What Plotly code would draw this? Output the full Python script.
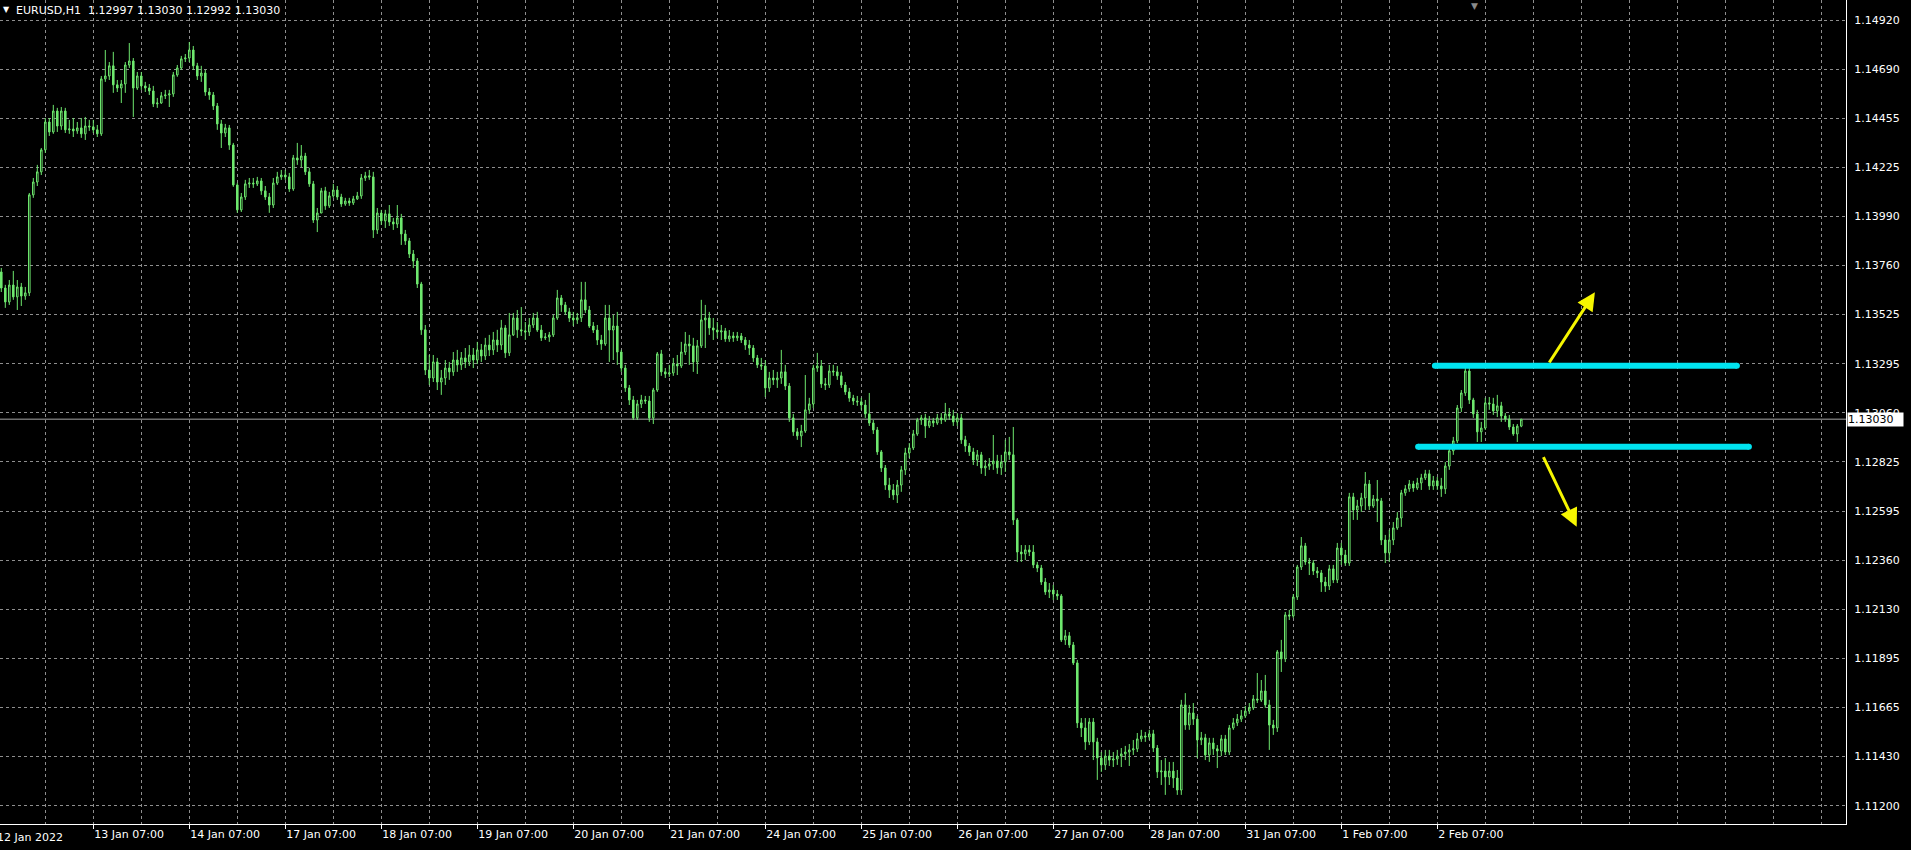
import plotly.graph_objects as go

# ---------------- data ----------------
symbol = "EURUSD,H1"
first_label = "12 Jan 2022"
x_tick_labels = ["13 Jan 07:00", "14 Jan 07:00", "17 Jan 07:00", "18 Jan 07:00", "19 Jan 07:00",
                 "20 Jan 07:00", "21 Jan 07:00", "24 Jan 07:00", "25 Jan 07:00", "26 Jan 07:00",
                 "27 Jan 07:00", "28 Jan 07:00", "31 Jan 07:00", "1 Feb 07:00", "2 Feb 07:00"]
first_tick_bar = 23        # bar index of 13 Jan 07:00 (bar 0 = 12 Jan 08:00)
bars_per_day = 24
grid_first_bar = 11
grid_step_bars = 12

y_tick_labels = ["1.11200", "1.11430", "1.11665", "1.11895", "1.12130", "1.12360", "1.12595",
                 "1.12825", "1.13060", "1.13295", "1.13525", "1.13760", "1.13990", "1.14225",
                 "1.14455", "1.14690", "1.14920"]
y_tick_low, y_tick_high = 1.11200, 1.14920

opens = [
    1.13727, 1.13651, 1.13585, 1.13665, 1.13609, 1.13656, 1.13613, 1.13628, 1.14092, 1.14153,
    1.14201, 1.14305, 1.14437, 1.14390, 1.14489, 1.14418, 1.14489, 1.14400, 1.14404, 1.14395,
    1.14409, 1.14381, 1.14418, 1.14414, 1.14400, 1.14381, 1.14641, 1.14655, 1.14703, 1.14613,
    1.14598, 1.14617, 1.14707, 1.14726, 1.14598, 1.14655, 1.14608, 1.14598, 1.14584, 1.14523,
    1.14527, 1.14561, 1.14565, 1.14570, 1.14660, 1.14693, 1.14736, 1.14740, 1.14778, 1.14703,
    1.14655, 1.14669, 1.14579, 1.14565, 1.14513, 1.14428, 1.14385, 1.14409, 1.14328, 1.14139,
    1.14021, 1.14082, 1.14144, 1.14148, 1.14144, 1.14158, 1.14111, 1.14082, 1.14044, 1.14148,
    1.14177, 1.14186, 1.14177, 1.14120, 1.14267, 1.14257, 1.14276, 1.14201, 1.14144, 1.13973,
    1.14006, 1.14111, 1.14040, 1.14087, 1.14115, 1.14082, 1.14049, 1.14063, 1.14054, 1.14073,
    1.14087, 1.14172, 1.14182, 1.14177, 1.13926, 1.14006, 1.13969, 1.14002, 1.13964, 1.13954,
    1.13983, 1.13907, 1.13874, 1.13812, 1.13779, 1.13670, 1.13453, 1.13263, 1.13225, 1.13301,
    1.13206, 1.13225, 1.13272, 1.13254, 1.13310, 1.13287, 1.13320, 1.13301, 1.13334, 1.13310,
    1.13358, 1.13329, 1.13381, 1.13358, 1.13405, 1.13381, 1.13462, 1.13344, 1.13429, 1.13509,
    1.13453, 1.13448, 1.13443, 1.13476, 1.13509, 1.13452, 1.13415, 1.13419, 1.13429, 1.13509,
    1.13604, 1.13571, 1.13538, 1.13509, 1.13500, 1.13510, 1.13595, 1.13547, 1.13471, 1.13452,
    1.13405, 1.13386, 1.13509, 1.13452, 1.13471, 1.13348, 1.13272, 1.13178, 1.13121, 1.13036,
    1.13102, 1.13121, 1.13116, 1.13036, 1.13168, 1.13339, 1.13254, 1.13244, 1.13249, 1.13291,
    1.13282, 1.13348, 1.13386, 1.13377, 1.13301, 1.13377, 1.13500, 1.13509, 1.13462, 1.13452,
    1.13443, 1.13448, 1.13410, 1.13424, 1.13415, 1.13424, 1.13405, 1.13381, 1.13367, 1.13320,
    1.13287, 1.13282, 1.13178, 1.13225, 1.13216, 1.13225, 1.13254, 1.13187, 1.13036, 1.12970,
    1.12951, 1.12974, 1.13074, 1.13102, 1.13272, 1.13282, 1.13197, 1.13192, 1.13258, 1.13254,
    1.13235, 1.13192, 1.13159, 1.13130, 1.13116, 1.13112, 1.13097, 1.13055, 1.13012, 1.12979,
    1.12875, 1.12799, 1.12718, 1.12695, 1.12671, 1.12718, 1.12790, 1.12870, 1.12894, 1.12960,
    1.13026, 1.13036, 1.12998, 1.13022, 1.13012, 1.13036, 1.13026, 1.13055, 1.13045, 1.13017,
    1.13036, 1.12932, 1.12903, 1.12875, 1.12837, 1.12861, 1.12799, 1.12808, 1.12818, 1.12832,
    1.12800, 1.12827, 1.12875, 1.12861, 1.12553, 1.12401, 1.12392, 1.12411, 1.12401, 1.12340,
    1.12325, 1.12259, 1.12212, 1.12221, 1.12202, 1.12193, 1.11985, 1.12004, 1.11961, 1.11876,
    1.11592, 1.11568, 1.11502, 1.11596, 1.11502, 1.11426, 1.11393, 1.11435, 1.11416, 1.11421,
    1.11435, 1.11445, 1.11454, 1.11464, 1.11469, 1.11516, 1.11530, 1.11525, 1.11540, 1.11473,
    1.11360, 1.11364, 1.11336, 1.11364, 1.11331, 1.11274, 1.11677, 1.11582, 1.11639, 1.11610,
    1.11511, 1.11521, 1.11440, 1.11497, 1.11469, 1.11459, 1.11516, 1.11454, 1.11568, 1.11592,
    1.11610, 1.11625, 1.11648, 1.11663, 1.11705, 1.11700, 1.11743, 1.11677, 1.11582, 1.11568,
    1.11928, 1.11895, 1.12103, 1.12098, 1.12188, 1.12330, 1.12430, 1.12354, 1.12349, 1.12311,
    1.12302, 1.12259, 1.12240, 1.12321, 1.12269, 1.12420, 1.12387, 1.12349, 1.12662, 1.12600,
    1.12619, 1.12657, 1.12723, 1.12619, 1.12652, 1.12643, 1.12458, 1.12397, 1.12458, 1.12515,
    1.12562, 1.12681, 1.12700, 1.12723, 1.12704, 1.12728, 1.12752, 1.12771, 1.12714, 1.12738,
    1.12714, 1.12700, 1.12808, 1.12880, 1.12927, 1.13083, 1.13154, 1.13258, 1.13121, 1.13055,
    1.12970, 1.12988, 1.13107, 1.13102, 1.13069, 1.13093, 1.13045, 1.13031, 1.12993, 1.12960,
    1.12997,
]

highs = [
    1.13746, 1.13666, 1.13689, 1.13732, 1.13689, 1.13675, 1.13656, 1.14101, 1.14172, 1.14234,
    1.14314, 1.14456, 1.14456, 1.14518, 1.14504, 1.14508, 1.14504, 1.14447, 1.14456, 1.14437,
    1.14456, 1.14461, 1.14447, 1.14447, 1.14423, 1.14655, 1.14778, 1.14721, 1.14769, 1.14636,
    1.14636, 1.14721, 1.14811, 1.14740, 1.14674, 1.14674, 1.14627, 1.14617, 1.14608, 1.14551,
    1.14579, 1.14589, 1.14589, 1.14674, 1.14707, 1.14750, 1.14759, 1.14816, 1.14797, 1.14717,
    1.14703, 1.14684, 1.14598, 1.14579, 1.14527, 1.14447, 1.14428, 1.14423, 1.14338, 1.14149,
    1.14101, 1.14163, 1.14172, 1.14172, 1.14177, 1.14172, 1.14134, 1.14101, 1.14172, 1.14201,
    1.14210, 1.14210, 1.14196, 1.14281, 1.14338, 1.14328, 1.14291, 1.14220, 1.14158, 1.14030,
    1.14125, 1.14130, 1.14106, 1.14144, 1.14134, 1.14097, 1.14078, 1.14078, 1.14087, 1.14106,
    1.14191, 1.14201, 1.14210, 1.14201, 1.14030, 1.14021, 1.14021, 1.14044, 1.13983, 1.14044,
    1.14002, 1.13926, 1.13888, 1.13831, 1.13793, 1.13680, 1.13476, 1.13334, 1.13334, 1.13320,
    1.13263, 1.13310, 1.13301, 1.13348, 1.13358, 1.13348, 1.13367, 1.13381, 1.13367, 1.13396,
    1.13386, 1.13415, 1.13429, 1.13443, 1.13453, 1.13500, 1.13476, 1.13533, 1.13533, 1.13547,
    1.13561, 1.13490, 1.13509, 1.13533, 1.13538, 1.13476, 1.13438, 1.13443, 1.13524, 1.13642,
    1.13618, 1.13585, 1.13557, 1.13538, 1.13533, 1.13680, 1.13680, 1.13566, 1.13490, 1.13476,
    1.13429, 1.13571, 1.13571, 1.13524, 1.13538, 1.13358, 1.13287, 1.13192, 1.13140, 1.13121,
    1.13145, 1.13140, 1.13140, 1.13178, 1.13348, 1.13358, 1.13272, 1.13287, 1.13320, 1.13334,
    1.13396, 1.13443, 1.13429, 1.13415, 1.13405, 1.13595, 1.13571, 1.13538, 1.13509, 1.13490,
    1.13476, 1.13462, 1.13452, 1.13443, 1.13443, 1.13438, 1.13419, 1.13405, 1.13381, 1.13334,
    1.13320, 1.13310, 1.13254, 1.13263, 1.13254, 1.13358, 1.13287, 1.13201, 1.13055, 1.12988,
    1.13003, 1.13239, 1.13131, 1.13287, 1.13344, 1.13310, 1.13225, 1.13287, 1.13287, 1.13282,
    1.13254, 1.13206, 1.13178, 1.13145, 1.13140, 1.13131, 1.13121, 1.13154, 1.13026, 1.12993,
    1.12884, 1.12813, 1.12752, 1.12723, 1.12742, 1.12808, 1.12894, 1.12917, 1.12979, 1.13036,
    1.13050, 1.13055, 1.13045, 1.13036, 1.13055, 1.13059, 1.13107, 1.13083, 1.13074, 1.13059,
    1.13055, 1.12951, 1.12917, 1.12894, 1.12884, 1.12875, 1.12837, 1.12846, 1.12955, 1.12861,
    1.12861, 1.12932, 1.12946, 1.12993, 1.12562, 1.12434, 1.12434, 1.12434, 1.12434, 1.12354,
    1.12340, 1.12278, 1.12254, 1.12245, 1.12221, 1.12202, 1.12032, 1.12022, 1.11975, 1.11890,
    1.11615, 1.11615, 1.11615, 1.11615, 1.11521, 1.11454, 1.11464, 1.11464, 1.11454, 1.11464,
    1.11473, 1.11483, 1.11492, 1.11511, 1.11544, 1.11559, 1.11549, 1.11559, 1.11559, 1.11487,
    1.11416, 1.11426, 1.11407, 1.11407, 1.11369, 1.11701, 1.11733, 1.11677, 1.11686, 1.11625,
    1.11549, 1.11540, 1.11521, 1.11521, 1.11487, 1.11535, 1.11535, 1.11582, 1.11615, 1.11634,
    1.11653, 1.11672, 1.11686, 1.11724, 1.11828, 1.11795, 1.11819, 1.11701, 1.11606, 1.11937,
    1.11985, 1.12117, 1.12127, 1.12202, 1.12340, 1.12472, 1.12444, 1.12373, 1.12363, 1.12330,
    1.12316, 1.12283, 1.12340, 1.12340, 1.12444, 1.12444, 1.12411, 1.12681, 1.12681, 1.12648,
    1.12681, 1.12780, 1.12742, 1.12671, 1.12742, 1.12657, 1.12482, 1.12506, 1.12543, 1.12590,
    1.12695, 1.12718, 1.12742, 1.12738, 1.12752, 1.12771, 1.12790, 1.12790, 1.12761, 1.12756,
    1.12752, 1.12827, 1.12894, 1.12946, 1.13097, 1.13168, 1.13277, 1.13277, 1.13131, 1.13074,
    1.13017, 1.13131, 1.13135, 1.13131, 1.13145, 1.13112, 1.13059, 1.13050, 1.13007, 1.13007,
    1.13030,
]

lows = [
    1.13632, 1.13557, 1.13571, 1.13595, 1.13547, 1.13566, 1.13595, 1.13613, 1.14078, 1.14134,
    1.14186, 1.14291, 1.14371, 1.14381, 1.14390, 1.14400, 1.14385, 1.14381, 1.14366, 1.14381,
    1.14362, 1.14352, 1.14395, 1.14385, 1.14366, 1.14371, 1.14627, 1.14636, 1.14575, 1.14579,
    1.14527, 1.14575, 1.14693, 1.14461, 1.14589, 1.14589, 1.14579, 1.14565, 1.14508, 1.14504,
    1.14523, 1.14546, 1.14508, 1.14556, 1.14651, 1.14684, 1.14721, 1.14721, 1.14684, 1.14636,
    1.14627, 1.14561, 1.14542, 1.14494, 1.14400, 1.14314, 1.14366, 1.14305, 1.14130, 1.14007,
    1.14011, 1.14068, 1.14125, 1.14125, 1.14134, 1.14092, 1.14068, 1.14007, 1.14030, 1.14139,
    1.14163, 1.14163, 1.14106, 1.14111, 1.14234, 1.14224, 1.14186, 1.14130, 1.13959, 1.13916,
    1.14007, 1.14021, 1.14030, 1.14078, 1.14068, 1.14035, 1.14040, 1.14040, 1.14044, 1.14068,
    1.14073, 1.14158, 1.14163, 1.13888, 1.13907, 1.13950, 1.13935, 1.13945, 1.13926, 1.13935,
    1.13855, 1.13855, 1.13793, 1.13746, 1.13651, 1.13429, 1.13239, 1.13192, 1.13206, 1.13168,
    1.13145, 1.13192, 1.13216, 1.13235, 1.13254, 1.13263, 1.13272, 1.13282, 1.13272, 1.13291,
    1.13301, 1.13310, 1.13329, 1.13334, 1.13348, 1.13358, 1.13320, 1.13329, 1.13424, 1.13415,
    1.13424, 1.13405, 1.13424, 1.13462, 1.13443, 1.13400, 1.13405, 1.13396, 1.13419, 1.13500,
    1.13538, 1.13524, 1.13490, 1.13471, 1.13481, 1.13490, 1.13533, 1.13462, 1.13438, 1.13381,
    1.13358, 1.13377, 1.13301, 1.13310, 1.13287, 1.13254, 1.13159, 1.13097, 1.13026, 1.13026,
    1.13083, 1.13102, 1.13017, 1.13007, 1.13159, 1.13235, 1.13225, 1.13230, 1.13235, 1.13239,
    1.13272, 1.13334, 1.13287, 1.13254, 1.13244, 1.13367, 1.13367, 1.13429, 1.13405, 1.13415,
    1.13405, 1.13396, 1.13396, 1.13396, 1.13400, 1.13391, 1.13358, 1.13334, 1.13301, 1.13272,
    1.13263, 1.13135, 1.13159, 1.13192, 1.13178, 1.13197, 1.13168, 1.13017, 1.12951, 1.12932,
    1.12898, 1.12965, 1.13055, 1.13083, 1.13254, 1.13178, 1.13168, 1.13178, 1.13235, 1.13216,
    1.13178, 1.13145, 1.13112, 1.13097, 1.13093, 1.13074, 1.13036, 1.12998, 1.12960, 1.12861,
    1.12780, 1.12695, 1.12657, 1.12648, 1.12633, 1.12686, 1.12766, 1.12846, 1.12884, 1.12951,
    1.13003, 1.12941, 1.12988, 1.12993, 1.13003, 1.13007, 1.13017, 1.13026, 1.12998, 1.12998,
    1.12913, 1.12875, 1.12856, 1.12813, 1.12808, 1.12771, 1.12761, 1.12790, 1.12790, 1.12771,
    1.12766, 1.12780, 1.12837, 1.12529, 1.12354, 1.12354, 1.12363, 1.12382, 1.12325, 1.12306,
    1.12245, 1.12198, 1.12183, 1.12174, 1.12174, 1.11975, 1.11961, 1.11947, 1.11866, 1.11568,
    1.11525, 1.11464, 1.11487, 1.11416, 1.11322, 1.11360, 1.11369, 1.11388, 1.11383, 1.11393,
    1.11383, 1.11416, 1.11388, 1.11440, 1.11454, 1.11502, 1.11502, 1.11511, 1.11454, 1.11331,
    1.11298, 1.11251, 1.11298, 1.11284, 1.11251, 1.11251, 1.11559, 1.11559, 1.11582, 1.11426,
    1.11487, 1.11416, 1.11407, 1.11440, 1.11378, 1.11435, 1.11440, 1.11440, 1.11559, 1.11577,
    1.11596, 1.11615, 1.11634, 1.11653, 1.11686, 1.11691, 1.11663, 1.11464, 1.11535, 1.11549,
    1.11833, 1.11880, 1.12079, 1.12089, 1.12174, 1.12316, 1.12340, 1.12292, 1.12292, 1.12278,
    1.12212, 1.12212, 1.12221, 1.12254, 1.12254, 1.12340, 1.12335, 1.12335, 1.12553, 1.12553,
    1.12591, 1.12600, 1.12600, 1.12610, 1.12543, 1.12434, 1.12349, 1.12354, 1.12434, 1.12506,
    1.12520, 1.12667, 1.12686, 1.12686, 1.12695, 1.12695, 1.12742, 1.12695, 1.12695, 1.12695,
    1.12662, 1.12676, 1.12790, 1.12861, 1.12917, 1.13064, 1.13140, 1.13102, 1.13036, 1.12922,
    1.12922, 1.12979, 1.13074, 1.13050, 1.13040, 1.13017, 1.13017, 1.12979, 1.12951, 1.12922,
    1.12992,
]

closes = [
    1.13651, 1.13585, 1.13665, 1.13609, 1.13656, 1.13613, 1.13628, 1.14092, 1.14153, 1.14201,
    1.14305, 1.14437, 1.14390, 1.14489, 1.14418, 1.14489, 1.14400, 1.14404, 1.14395, 1.14409,
    1.14381, 1.14418, 1.14414, 1.14400, 1.14381, 1.14641, 1.14655, 1.14703, 1.14613, 1.14598,
    1.14617, 1.14707, 1.14726, 1.14598, 1.14655, 1.14608, 1.14598, 1.14584, 1.14523, 1.14527,
    1.14561, 1.14565, 1.14570, 1.14660, 1.14693, 1.14736, 1.14740, 1.14778, 1.14703, 1.14655,
    1.14669, 1.14579, 1.14565, 1.14513, 1.14428, 1.14385, 1.14409, 1.14328, 1.14139, 1.14021,
    1.14082, 1.14144, 1.14148, 1.14144, 1.14158, 1.14111, 1.14082, 1.14044, 1.14148, 1.14177,
    1.14186, 1.14177, 1.14120, 1.14267, 1.14257, 1.14276, 1.14201, 1.14144, 1.13973, 1.14006,
    1.14111, 1.14040, 1.14087, 1.14115, 1.14082, 1.14049, 1.14063, 1.14054, 1.14073, 1.14087,
    1.14172, 1.14182, 1.14177, 1.13926, 1.14006, 1.13969, 1.14002, 1.13964, 1.13954, 1.13983,
    1.13907, 1.13874, 1.13812, 1.13779, 1.13670, 1.13453, 1.13263, 1.13225, 1.13301, 1.13206,
    1.13225, 1.13272, 1.13254, 1.13310, 1.13287, 1.13320, 1.13301, 1.13334, 1.13310, 1.13358,
    1.13329, 1.13381, 1.13358, 1.13405, 1.13381, 1.13462, 1.13344, 1.13429, 1.13509, 1.13453,
    1.13448, 1.13443, 1.13476, 1.13509, 1.13452, 1.13415, 1.13419, 1.13429, 1.13509, 1.13604,
    1.13571, 1.13538, 1.13509, 1.13500, 1.13510, 1.13595, 1.13547, 1.13471, 1.13452, 1.13405,
    1.13386, 1.13509, 1.13452, 1.13471, 1.13348, 1.13272, 1.13178, 1.13121, 1.13036, 1.13102,
    1.13121, 1.13116, 1.13036, 1.13168, 1.13339, 1.13254, 1.13244, 1.13249, 1.13291, 1.13282,
    1.13348, 1.13386, 1.13377, 1.13301, 1.13377, 1.13500, 1.13509, 1.13462, 1.13452, 1.13443,
    1.13448, 1.13410, 1.13424, 1.13415, 1.13424, 1.13405, 1.13381, 1.13367, 1.13320, 1.13287,
    1.13282, 1.13178, 1.13225, 1.13216, 1.13225, 1.13254, 1.13187, 1.13036, 1.12970, 1.12951,
    1.12974, 1.13074, 1.13102, 1.13272, 1.13282, 1.13197, 1.13192, 1.13258, 1.13254, 1.13235,
    1.13192, 1.13159, 1.13130, 1.13116, 1.13112, 1.13097, 1.13055, 1.13012, 1.12979, 1.12875,
    1.12799, 1.12718, 1.12695, 1.12671, 1.12718, 1.12790, 1.12870, 1.12894, 1.12960, 1.13026,
    1.13036, 1.12998, 1.13022, 1.13012, 1.13036, 1.13026, 1.13055, 1.13045, 1.13017, 1.13036,
    1.12932, 1.12903, 1.12875, 1.12837, 1.12861, 1.12799, 1.12808, 1.12818, 1.12832, 1.12800,
    1.12827, 1.12875, 1.12861, 1.12553, 1.12401, 1.12392, 1.12411, 1.12401, 1.12340, 1.12325,
    1.12259, 1.12212, 1.12221, 1.12202, 1.12193, 1.11985, 1.12004, 1.11961, 1.11876, 1.11592,
    1.11568, 1.11502, 1.11596, 1.11502, 1.11426, 1.11393, 1.11435, 1.11416, 1.11421, 1.11435,
    1.11445, 1.11454, 1.11464, 1.11469, 1.11516, 1.11530, 1.11525, 1.11540, 1.11473, 1.11360,
    1.11364, 1.11336, 1.11364, 1.11331, 1.11274, 1.11677, 1.11582, 1.11639, 1.11610, 1.11511,
    1.11521, 1.11440, 1.11497, 1.11469, 1.11459, 1.11516, 1.11454, 1.11568, 1.11592, 1.11610,
    1.11625, 1.11648, 1.11663, 1.11705, 1.11700, 1.11743, 1.11677, 1.11582, 1.11568, 1.11928,
    1.11895, 1.12103, 1.12098, 1.12188, 1.12330, 1.12430, 1.12354, 1.12349, 1.12311, 1.12302,
    1.12259, 1.12240, 1.12321, 1.12269, 1.12420, 1.12387, 1.12349, 1.12662, 1.12600, 1.12619,
    1.12657, 1.12723, 1.12619, 1.12652, 1.12643, 1.12458, 1.12397, 1.12458, 1.12515, 1.12562,
    1.12681, 1.12700, 1.12723, 1.12704, 1.12728, 1.12752, 1.12771, 1.12714, 1.12738, 1.12714,
    1.12700, 1.12808, 1.12880, 1.12927, 1.13083, 1.13154, 1.13258, 1.13121, 1.13055, 1.12970,
    1.12988, 1.13107, 1.13102, 1.13069, 1.13093, 1.13045, 1.13031, 1.12993, 1.12960, 1.12997,
    1.13030,
]

# drawn objects (bar index / price)
level_prices = [1.13283, 1.12900]
level_bar_from = [358.4, 354.2]
level_bar_to = [433.9, 436.9]
arrow_tail_bar = [386.75, 385.35]
arrow_tail_price = [1.13291, 1.12857]
arrow_tip_bar = [398.4, 393.85]
arrow_tip_price = [1.13631, 1.12521]

x_view = [-0.325, 461.175]
y_view = [1.111132, 1.150147]

# ---------------- style ----------------
BG = "#000000"
CANDLE = "#6EE86E"
GRID = "#8E8E8E"
CYAN = "#00E3F0"
YELLOW = "#F6F600"
FONT = "DejaVu Sans"
DASH = "3px,3px"

bars = list(range(len(closes)))
x_tickvals = [first_tick_bar + bars_per_day * k for k in range(len(x_tick_labels))]
grid_vals = list(range(grid_first_bar, int(x_view[1]) + 1, grid_step_bars))
n_y = len(y_tick_labels)
y_tickvals = [y_tick_low + (y_tick_high - y_tick_low) * k / (n_y - 1) for k in range(n_y)]

fig = go.Figure()
fig.add_trace(go.Candlestick(
    x=bars, open=opens, high=highs, low=lows, close=closes,
    increasing=dict(line=dict(color=CANDLE, width=1), fillcolor=BG),
    decreasing=dict(line=dict(color=CANDLE, width=1), fillcolor=CANDLE),
    whiskerwidth=0, hoverinfo="skip", showlegend=False,
))

for p, a, b in zip(level_prices, level_bar_from, level_bar_to):
    fig.add_trace(go.Scatter(
        x=[a, b], y=[p, p], mode="lines+markers",
        line=dict(color=CYAN, width=6), marker=dict(color=CYAN, size=6),
        hoverinfo="skip", showlegend=False,
    ))

for tx, ty, hx, hy in zip(arrow_tail_bar, arrow_tail_price, arrow_tip_bar, arrow_tip_price):
    fig.add_annotation(
        x=hx, y=hy, ax=tx, ay=ty, xref="x", yref="y", axref="x", ayref="y",
        text="", showarrow=True, arrowhead=2, arrowsize=1.2, arrowwidth=3,
        arrowcolor=YELLOW, standoff=0,
    )

# current price line + label
fig.add_shape(type="line", xref="paper", x0=0, x1=1, yref="y", y0=closes[-1], y1=closes[-1],
              line=dict(color="#A8A8A8", width=1), layer="below")
fig.add_annotation(
    xref="paper", x=1, xanchor="left", xshift=1, yref="y", y=closes[-1], yanchor="middle",
    text=f"{closes[-1]:.5f}", bgcolor="#FFFFFF", font=dict(color="#000000", size=11, family=FONT),
    showarrow=False, borderpad=0, width=55, align="left",
)

# header
header = f"{symbol}\u00a0\u00a0{opens[-1]:.5f} {highs[-1]:.5f} {lows[-1]:.5f} {closes[-1]:.5f}"
fig.add_annotation(xref="paper", yref="paper", x=0, y=1, xanchor="left", yanchor="top",
                   xshift=14, yshift=-2, text=header, showarrow=False,
                   font=dict(color="#FFFFFF", size=11, family=FONT))
fig.add_annotation(xref="paper", yref="paper", x=0, y=1, xanchor="left", yanchor="top",
                   xshift=1, yshift=-3, text="\u25BC", showarrow=False,
                   font=dict(color="#FFFFFF", size=8, family=FONT))
# chart-shift marker
fig.add_annotation(xref="paper", yref="paper", x=0.799, y=1, xanchor="center", yanchor="top",
                   yshift=1, text="\u25BC", showarrow=False,
                   font=dict(color="#8A8A8A", size=9, family=FONT))
# first (cut) date label
fig.add_annotation(xref="paper", yref="paper", x=0, y=0, xanchor="left", yanchor="top",
                   xshift=-5, yshift=-5, text=first_label, showarrow=False,
                   font=dict(color="#FFFFFF", size=11, family=FONT))

fig.update_layout(
    width=1911, height=850,
    margin=dict(l=0, r=65, t=0, b=26),
    paper_bgcolor=BG, plot_bgcolor=BG,
    boxgap=0.45,
    font=dict(family=FONT, size=11, color="#FFFFFF"),
    hovermode=False,
    showlegend=False,
    xaxis=dict(
        range=x_view, rangeslider=dict(visible=False),
        tickmode="array", tickvals=x_tickvals, ticktext=x_tick_labels,
        ticks="outside", ticklen=4, tickcolor="#FFFFFF", tickwidth=1,
        ticklabelposition="outside right",
        showgrid=True, gridcolor=GRID, griddash=DASH, gridwidth=1,
        minor=dict(tickmode="array", tickvals=grid_vals, showgrid=True,
                   gridcolor=GRID, griddash=DASH, gridwidth=1, ticks=""),
        showline=True, linecolor="#FFFFFF", linewidth=1,
        zeroline=False, fixedrange=True,
        tickfont=dict(family=FONT, size=11, color="#FFFFFF"),
    ),
    yaxis=dict(
        side="right", range=y_view,
        tickmode="array", tickvals=y_tickvals, ticktext=y_tick_labels,
        ticks="", ticklabelstandoff=5,
        showgrid=True, gridcolor=GRID, griddash=DASH, gridwidth=1,
        showline=True, linecolor="#FFFFFF", linewidth=1,
        zeroline=False, fixedrange=True,
        tickfont=dict(family=FONT, size=11, color="#FFFFFF"),
    ),
)

fig.write_html("out.html", config={"displayModeBar": False},
               post_script="document.body.style.margin='0px';document.body.style.overflow='hidden';")
